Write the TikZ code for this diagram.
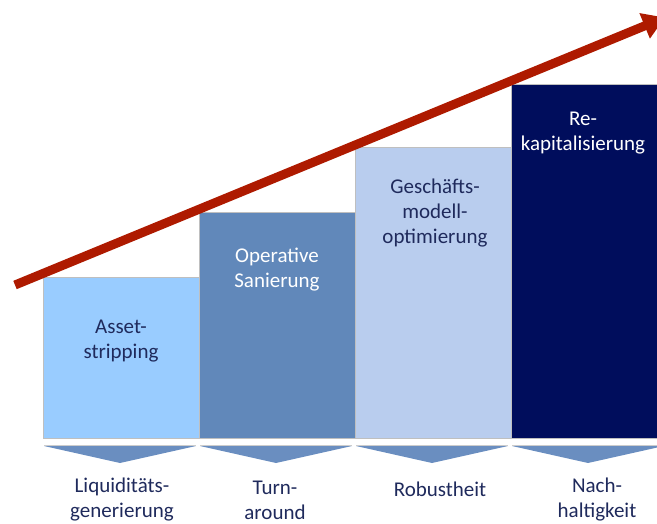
\documentclass[tikz,border=0pt]{standalone}
\usepackage{fontspec}
\setmainfont{Carlito}
\usetikzlibrary{arrows.meta}

\definecolor{lightstep}{HTML}{99CCFF}
\definecolor{steelstep}{HTML}{6188BA}
\definecolor{paleblue}{HTML}{B9CDEE}
\definecolor{navystep}{HTML}{000D5C}
\definecolor{chevblue}{HTML}{6A8EC0}
\definecolor{inktext}{HTML}{1F2A5C}
\definecolor{trendred}{HTML}{AE1A00}

\begin{document}
\begin{tikzpicture}[x=1pt, y=-1pt,
    stepbox/.style={draw=black!25, line width=0.5pt, anchor=south west,
        minimum width=156pt, inner sep=0pt},
    steptext/.style={align=center, font=\fontsize{21}{25}\selectfont},
    chev/.style={fill=chevblue},
    trend/.style={line width=9pt, color=trendred,
        -{Triangle[length=22pt,width=26pt]}}]
    \useasboundingbox (0,0) rectangle (657,524);
    \clip (0,0) rectangle (657,524);

    % Steps, each one higher than the last
    \node[stepbox, fill=lightstep, minimum height=160pt] (s1) at (43,438) {};
    \node[stepbox, fill=steelstep, minimum height=225pt] (s2) at (199,438) {};
    \node[stepbox, fill=paleblue, minimum height=290pt] (s3) at (355,438) {};
    \node[stepbox, fill=navystep, minimum height=353pt] (s4) at (511,438) {};

    % Texts on the steps
    \node[steptext, text=inktext] (t1) at (121,341) {Asset-\\stripping};
    \node[steptext, text=white] (t2) at (277,270) {Operative\\Sanierung};
    \node[steptext, text=inktext] (t3) at (435,213) {Geschäfts-\\modell-\\optimierung};
    \node[steptext, text=white] (t4) at (583,133) {Re-\\kapitalisierung};

    % Chevrons under the steps
    \foreach \k in {0,...,3} {
        \fill[chev] ({44+156*\k},446) -- ({196+156*\k},446) -- ({120+156*\k},463) -- cycle;
        \draw[black!20, line width=0.6pt] ({44+156*\k},445.5) -- ({196+156*\k},445.5);
    }

    % Outcomes
    \node[steptext, text=inktext] (l1) at (122,500) {Liquiditäts-\\generierung};
    \node[steptext, text=inktext] (l2) at (275,500) {Turn-\\around};
    \node[steptext, text=inktext] (l3) at (440,489) {Robustheit};
    \node[steptext, text=inktext] (l4) at (597,500) {Nach-\\haltigkeit};

    % Rising trend arrow
    \coordinate (start) at (15,285);
    \coordinate (tip) at (665,17.5);
    \draw[trend] (start) -- (tip);
\end{tikzpicture}
\end{document}
